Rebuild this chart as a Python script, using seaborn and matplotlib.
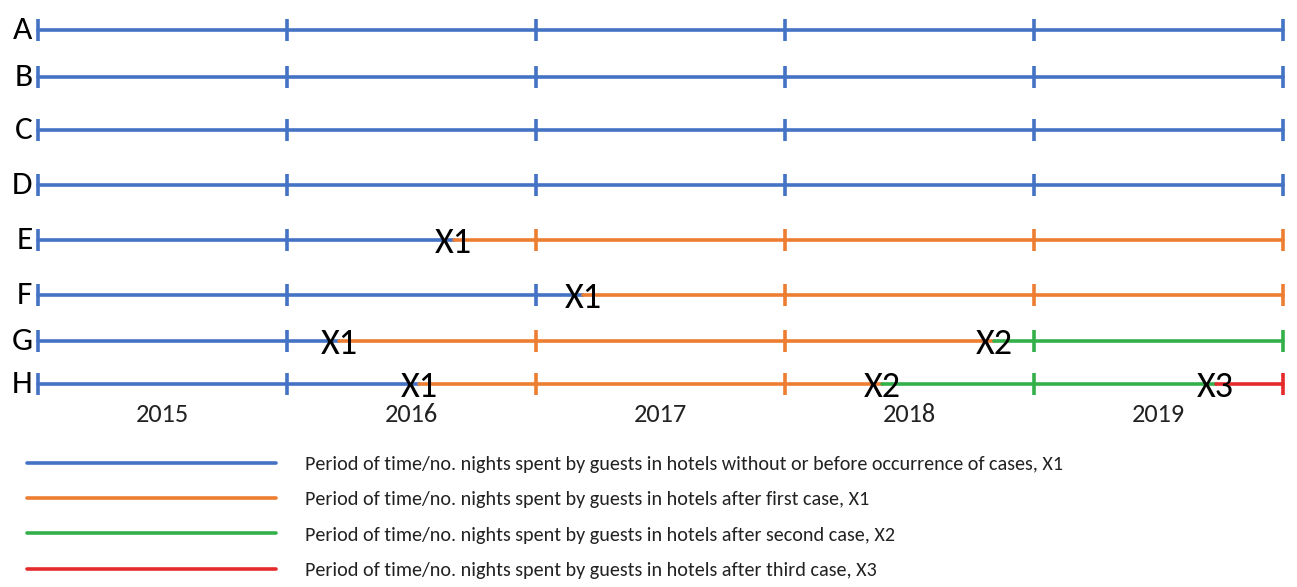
import matplotlib
matplotlib.use("Agg")
import matplotlib.pyplot as plt
from matplotlib.lines import Line2D
import seaborn as sns
import pandas as pd

# ---- data ----
rows = ["A", "B", "C", "D", "E", "F", "G", "H"]
events = {
    "A": [],
    "B": [],
    "C": [],
    "D": [],
    "E": [2016.67],
    "F": [2017.19],
    "G": [2016.21, 2018.84],
    "H": [2016.53, 2018.39, 2019.73],
}
event_labels = ["X1", "X2", "X3"]
years = [2015, 2016, 2017, 2018, 2019]
start_year, end_year = 2015, 2020
phase_names = [
    "Period of time/no. nights spent by guests in hotels without or before occurrence of cases, X1",
    "Period of time/no. nights spent by guests in hotels after first case, X1",
    "Period of time/no. nights spent by guests in hotels after second case, X2",
    "Period of time/no. nights spent by guests in hotels after third case, X3",
]

# ---- style / layout ----
colors = ["#4472C4", "#ED7D31", "#34B04A", "#E42A2A"]
row_pos = [30, 77, 130, 185, 240, 295, 341, 384]
W, H = 1297, 587
px_per_year = 249
x0_px = 38

sns.set_style("white")
plt.rcParams["font.family"] = ["Carlito", "Lato", "DejaVu Sans"]

fig = plt.figure(figsize=(W / 100, H / 100), dpi=100)
ax = fig.add_axes([0, 0, 1, 1])
ax.set_xlim(start_year - x0_px / px_per_year, start_year + (W - x0_px) / px_per_year)
ax.set_ylim(H, 0)
ax.axis("off")

# build segments
recs = []
seg = 0
for r, y in zip(rows, row_pos):
    bounds = [start_year] + events[r] + [end_year]
    for p in range(len(bounds) - 1):
        recs.append(dict(x=bounds[p], y=y, phase=p, seg=seg))
        recs.append(dict(x=bounds[p + 1], y=y, phase=p, seg=seg))
        seg += 1
df = pd.DataFrame(recs)
sns.lineplot(data=df, x="x", y="y", hue="phase", units="seg", estimator=None,
             palette=colors, linewidth=2.6, legend=False, sort=False, ax=ax)

# year boundary ticks, row letters, event labels
for r, y in zip(rows, row_pos):
    for yr in years + [end_year]:
        ph = sum(1 for e in events[r] if e < yr)
        ax.vlines(yr, y - 11, y + 11, colors=colors[ph], linewidth=2.6)
    ax.annotate(r, (start_year, y), xytext=(-4, 0), textcoords="offset points",
                ha="right", va="center", fontsize=24, color="black")
    for i, e in enumerate(events[r]):
        ax.text(e, y + 3, event_labels[i], ha="center", va="center",
                fontsize=26, color="black")

for yr in years:
    ax.text(yr + 0.5, 415, str(yr), ha="center", va="center", fontsize=19, color="#222222")

fs_leg = 14.5
fs_px = fs_leg * 100 / 72
handles = [Line2D([], [], color=c, lw=2.6) for c in colors]
leg = fig.legend(handles, phase_names, loc="upper left",
                 bbox_to_anchor=(27 / W, 1 - 456 / H), frameon=False,
                 fontsize=fs_leg, handlelength=249 / fs_px, handletextpad=29 / fs_px,
                 labelspacing=0.9, borderpad=0, borderaxespad=0)
for t in leg.get_texts():
    t.set_color("#222222")

fig.savefig("out.png", dpi=100)
